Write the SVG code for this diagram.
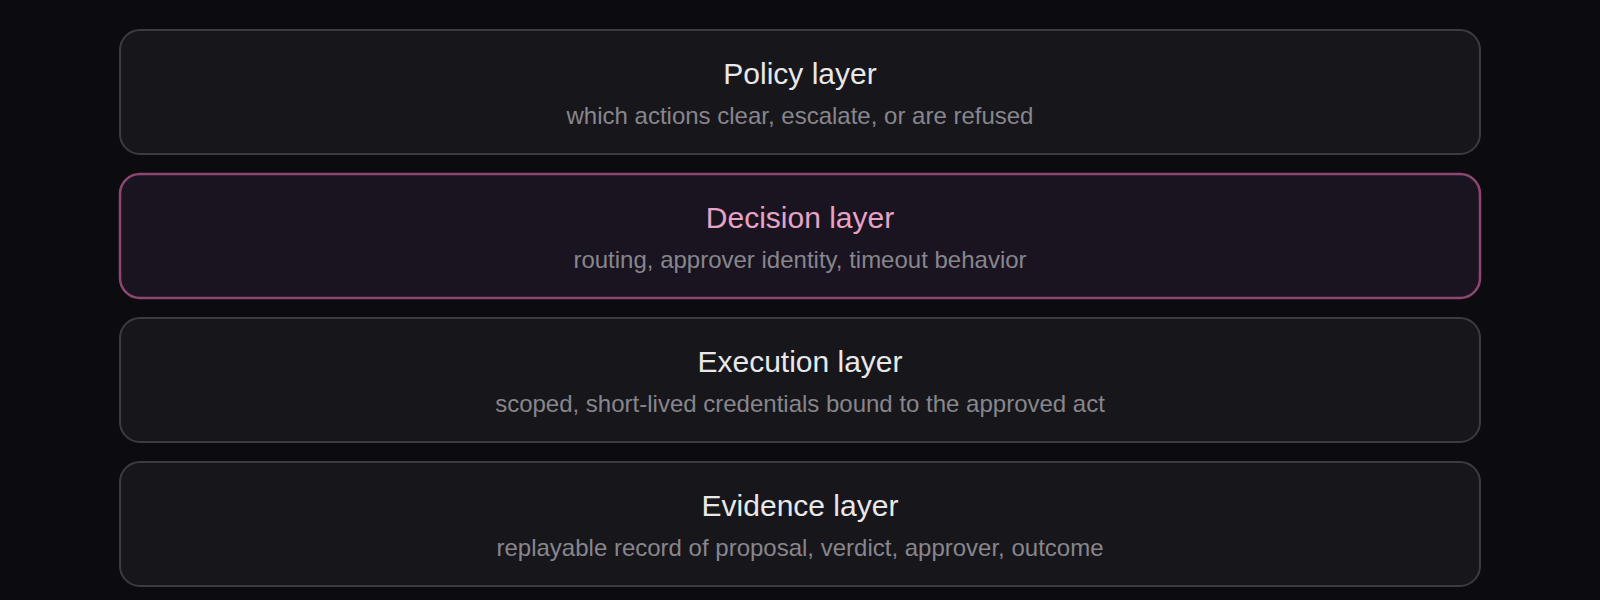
<svg xmlns="http://www.w3.org/2000/svg" width="1600" height="600" viewBox="0 0 1600 600">
<style>
.box{fill:#17161b;stroke:#3c3b42;stroke-width:2}
.hl{fill:#1a1320;stroke:#8e4670;stroke-width:2.5}
.t{font-family:"Liberation Sans",Arial,sans-serif;font-size:30px;fill:#e8e8ea;text-anchor:middle}
.th{fill:#e7a3c4}
.s{font-family:"Liberation Sans",Arial,sans-serif;font-size:24px;fill:#87868d;text-anchor:middle}
</style>
<rect width="1600" height="600" fill="#0c0c10"/>
<g id="policy">
<rect class="box" x="120" y="30" width="1360" height="124" rx="20"/>
<text class="t" x="800" y="84">Policy layer</text>
<text class="s" x="800" y="124">which actions clear, escalate, or are refused</text>
</g>
<g id="decision">
<rect class="hl" x="120" y="174" width="1360" height="124" rx="20"/>
<text class="t th" x="800" y="228">Decision layer</text>
<text class="s" x="800" y="268">routing, approver identity, timeout behavior</text>
</g>
<g id="execution">
<rect class="box" x="120" y="318" width="1360" height="124" rx="20"/>
<text class="t" x="800" y="372">Execution layer</text>
<text class="s" x="800" y="412">scoped, short-lived credentials bound to the approved act</text>
</g>
<g id="evidence">
<rect class="box" x="120" y="462" width="1360" height="124" rx="20"/>
<text class="t" x="800" y="516">Evidence layer</text>
<text class="s" x="800" y="556">replayable record of proposal, verdict, approver, outcome</text>
</g>
<g id="connectors"></g>
</svg>
